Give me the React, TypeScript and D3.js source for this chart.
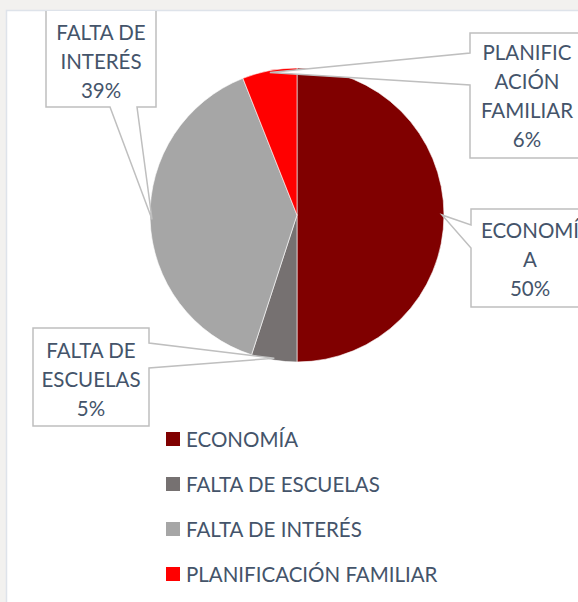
import React from "react";
import * as d3 from "d3";

const categories = ["ECONOMÍA", "FALTA DE ESCUELAS", "FALTA DE INTERÉS", "PLANIFICACIÓN FAMILIAR"];
const values = [50, 5, 39, 6];
const colors = ["#800000", "#767171", "#A6A6A6", "#FF0000"];
const labelLines = [
  ["ECONOMÍ", "A", "50%"],
  ["FALTA DE", "ESCUELAS", "5%"],
  ["FALTA DE", "INTERÉS", "39%"],
  ["PLANIFIC", "ACIÓN", "FAMILIAR", "6%"],
];

const W = 578, H = 602;
const cx = 297, cy = 215, R = 147;
const TEXT = "#44546A";
const FONT = "Lato, 'Open Sans', sans-serif";
const FS = 20.5;
const LH = 29;

type Box = { x0: number; y0: number; x1: number; y1: number; side: "left" | "right" | "bottom"; a: number; b: number; tcx: number; ty: number };
const boxes: Box[] = [
  { x0: 471, y0: 209, x1: 590, y1: 307, side: "left", a: 225, b: 248, tcx: 530, ty: 230 },
  { x0: 33, y0: 328, x1: 149, y1: 426, side: "right", a: 343, b: 368, tcx: 91, ty: 350 },
  { x0: 46, y0: -5, x1: 156, y1: 107, side: "bottom", a: 110, b: 137, tcx: 101, ty: 32 },
  { x0: 470, y0: 33, x1: 590, y1: 158, side: "left", a: 53, b: 85, tcx: 527, ty: 52 },
];

function calloutPath(bx: Box, tip: [number, number]) {
  const { x0, y0, x1, y1, side, a, b } = bx;
  const [tx, ty] = tip;
  if (side === "left")
    return `M${x0},${y0}H${x1}V${y1}H${x0}V${b}L${tx},${ty}L${x0},${a}Z`;
  if (side === "right")
    return `M${x0},${y0}H${x1}V${a}L${tx},${ty}L${x1},${b}V${y1}H${x0}Z`;
  return `M${x0},${y0}H${x1}V${y1}H${b}L${tx},${ty}L${a},${y1}H${x0}Z`;
}

export default function App() {
  const pie = d3.pie<number>().sort(null).value((d) => d);
  const arcs = pie(values);
  const arc = d3.arc<d3.PieArcDatum<number>>().innerRadius(0).outerRadius(R);
  const tipArc = d3.arc<d3.PieArcDatum<number>>().innerRadius(R - 2).outerRadius(R - 2);

  return (
    <svg width={W} height={H} style={{ position: "absolute", left: 0, top: 0, fontFamily: FONT }}>
      <defs>
        <clipPath id="area">
          <rect x={7} y={11} width={W} height={H} />
        </clipPath>
      </defs>
      <rect x={0} y={0} width={W} height={H} fill="#F2F1EF" />
      <rect x={6.5} y={10.5} width={W} height={H} fill="#FFFFFF" stroke="#DEE3EA" strokeWidth={1.5} />
      <g clipPath="url(#area)">
        <g transform={`translate(${cx},${cy})`}>
          {arcs.map((d, i) => (
            <path key={i} d={arc(d) || ""} fill={colors[i]} stroke="#FFFFFF" strokeWidth={0.6} />
          ))}
        </g>
        {arcs.map((d, i) => {
          const c = tipArc.centroid(d);
          const tip: [number, number] = [cx + c[0], cy + c[1]];
          const bx = boxes[i];
          return (
            <g key={i}>
              <path d={calloutPath(bx, tip)} fill="#FFFFFF" stroke="#BFBFBF" strokeWidth={1.5} />
              {labelLines[i].map((t, j) => (
                <text key={j} x={bx.tcx} y={bx.ty + j * LH} textAnchor="middle" dominantBaseline="central" fontSize={FS} fill={TEXT}>
                  {t}
                </text>
              ))}
            </g>
          );
        })}
        {categories.map((c, i) => (
          <g key={c} transform={`translate(166,${439 + i * 45})`}>
            <rect x={0} y={-7} width={14} height={14} fill={colors[i]} />
            <text x={20} y={0} dominantBaseline="central" fontSize={FS} fill={TEXT}>
              {c}
            </text>
          </g>
        ))}
      </g>
    </svg>
  );
}
